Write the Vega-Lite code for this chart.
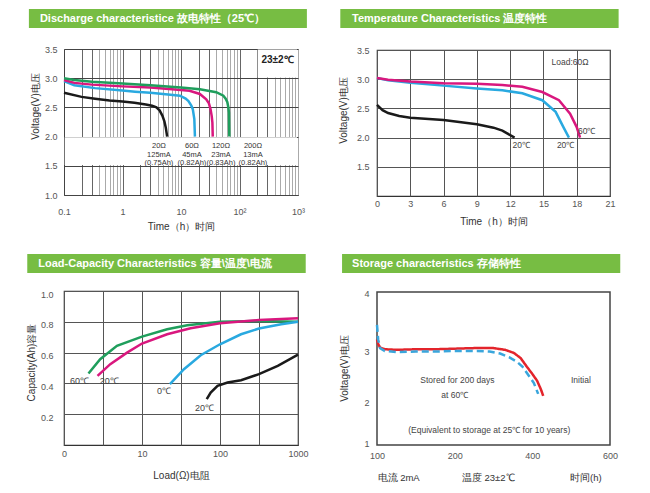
{
  "$schema": "https://vega.github.io/schema/vega-lite/v6.json",
  "background": "white",
  "padding": {"top": 9, "left": 25, "right": 5, "bottom": 5},
  "resolve": {"scale": {"color": "independent", "strokeDash": "independent"}},
  "config": {
    "font": "Liberation Sans",
    "axis": {"labelFont": "Liberation Sans", "labelFontSize": 9, "labelColor": "#555", "titleFont": "Liberation Sans", "titleFontSize": 10, "titleFontWeight": "normal", "titleColor": "#333", "ticks": false, "labelFlush": false, "labelOverlap": false, "domain": false, "gridColor": "#555", "gridWidth": 1, "gridOpacity": 1},
    "view": {"stroke": "#555", "strokeWidth": 1.2},
    "line": {"strokeWidth": 2.5},
    "text": {"font": "Liberation Sans", "fontSize": 9, "color": "#444"}
  },
  "datasets": {
    "one": [{}],
    "discharge": [
      {"s": "20Ω", "t": 0.1, "v": 2.75}, {"s": "20Ω", "t": 0.2, "v": 2.68}, {"s": "20Ω", "t": 0.34, "v": 2.65}, {"s": "20Ω", "t": 0.6, "v": 2.62}, {"s": "20Ω", "t": 1, "v": 2.6}, {"s": "20Ω", "t": 1.6, "v": 2.58}, {"s": "20Ω", "t": 2.5, "v": 2.55}, {"s": "20Ω", "t": 3.2, "v": 2.53}, {"s": "20Ω", "t": 3.8, "v": 2.5}, {"s": "20Ω", "t": 4.3, "v": 2.45}, {"s": "20Ω", "t": 4.8, "v": 2.36}, {"s": "20Ω", "t": 5.2, "v": 2.26}, {"s": "20Ω", "t": 5.5, "v": 2.15}, {"s": "20Ω", "t": 5.8, "v": 2.0},
      {"s": "60Ω", "t": 0.1, "v": 2.95}, {"s": "60Ω", "t": 0.15, "v": 2.88}, {"s": "60Ω", "t": 0.34, "v": 2.83}, {"s": "60Ω", "t": 1, "v": 2.79}, {"s": "60Ω", "t": 1.64, "v": 2.77}, {"s": "60Ω", "t": 3, "v": 2.75}, {"s": "60Ω", "t": 6, "v": 2.72}, {"s": "60Ω", "t": 9.6, "v": 2.7}, {"s": "60Ω", "t": 12, "v": 2.65}, {"s": "60Ω", "t": 13.4, "v": 2.61}, {"s": "60Ω", "t": 15, "v": 2.53}, {"s": "60Ω", "t": 15.9, "v": 2.47}, {"s": "60Ω", "t": 16.9, "v": 2.3}, {"s": "60Ω", "t": 17.3, "v": 2.0},
      {"s": "120Ω", "t": 0.1, "v": 2.97}, {"s": "120Ω", "t": 0.15, "v": 2.92}, {"s": "120Ω", "t": 0.3, "v": 2.89}, {"s": "120Ω", "t": 1, "v": 2.86}, {"s": "120Ω", "t": 3, "v": 2.84}, {"s": "120Ω", "t": 7, "v": 2.81}, {"s": "120Ω", "t": 14, "v": 2.785}, {"s": "120Ω", "t": 21, "v": 2.73}, {"s": "120Ω", "t": 27, "v": 2.64}, {"s": "120Ω", "t": 30, "v": 2.57}, {"s": "120Ω", "t": 32, "v": 2.47}, {"s": "120Ω", "t": 33.5, "v": 2.35}, {"s": "120Ω", "t": 34.4, "v": 2.24}, {"s": "120Ω", "t": 34.9, "v": 2.0},
      {"s": "200Ω", "t": 0.1, "v": 3.0}, {"s": "200Ω", "t": 0.15, "v": 2.97}, {"s": "200Ω", "t": 0.3, "v": 2.94}, {"s": "200Ω", "t": 1, "v": 2.91}, {"s": "200Ω", "t": 3, "v": 2.88}, {"s": "200Ω", "t": 10, "v": 2.84}, {"s": "200Ω", "t": 21, "v": 2.81}, {"s": "200Ω", "t": 40, "v": 2.76}, {"s": "200Ω", "t": 53, "v": 2.7}, {"s": "200Ω", "t": 58, "v": 2.65}, {"s": "200Ω", "t": 62, "v": 2.59}, {"s": "200Ω", "t": 64.5, "v": 2.5}, {"s": "200Ω", "t": 66, "v": 2.41}, {"s": "200Ω", "t": 67, "v": 2.0}
    ],
    "temperature": [
      {"s": "k", "t": 0, "v": 2.56}, {"s": "k", "t": 0.5, "v": 2.47}, {"s": "k", "t": 1, "v": 2.42}, {"s": "k", "t": 2, "v": 2.37}, {"s": "k", "t": 3, "v": 2.34}, {"s": "k", "t": 6, "v": 2.3}, {"s": "k", "t": 9, "v": 2.23}, {"s": "k", "t": 10.5, "v": 2.17}, {"s": "k", "t": 11.3, "v": 2.12}, {"s": "k", "t": 12.4, "v": 2.0},
      {"s": "b", "t": 0, "v": 3.02}, {"s": "b", "t": 1, "v": 2.98}, {"s": "b", "t": 3, "v": 2.94}, {"s": "b", "t": 6, "v": 2.89}, {"s": "b", "t": 9, "v": 2.84}, {"s": "b", "t": 11.3, "v": 2.81}, {"s": "b", "t": 13.1, "v": 2.76}, {"s": "b", "t": 14.9, "v": 2.64}, {"s": "b", "t": 16.1, "v": 2.44}, {"s": "b", "t": 16.8, "v": 2.18}, {"s": "b", "t": 17.3, "v": 2.0},
      {"s": "m", "t": 0, "v": 3.02}, {"s": "m", "t": 1, "v": 2.99}, {"s": "m", "t": 3, "v": 2.96}, {"s": "m", "t": 6, "v": 2.93}, {"s": "m", "t": 9, "v": 2.92}, {"s": "m", "t": 11.3, "v": 2.9}, {"s": "m", "t": 13.1, "v": 2.87}, {"s": "m", "t": 14.9, "v": 2.78}, {"s": "m", "t": 16.4, "v": 2.64}, {"s": "m", "t": 17.4, "v": 2.41}, {"s": "m", "t": 18.0, "v": 2.18}, {"s": "m", "t": 18.3, "v": 2.0}
    ],
    "capacity": [
      {"s": "g", "L": 2.06, "c": 0.464}, {"s": "g", "L": 2.91, "c": 0.557}, {"s": "g", "L": 4.77, "c": 0.644}, {"s": "g", "L": 10, "c": 0.704}, {"s": "g", "L": 21, "c": 0.752}, {"s": "g", "L": 38, "c": 0.778}, {"s": "g", "L": 100, "c": 0.8}, {"s": "g", "L": 316, "c": 0.806}, {"s": "g", "L": 1000, "c": 0.8},
      {"s": "m", "L": 2.69, "c": 0.449}, {"s": "m", "L": 3.92, "c": 0.525}, {"s": "m", "L": 6.43, "c": 0.6}, {"s": "m", "L": 10, "c": 0.659}, {"s": "m", "L": 21, "c": 0.719}, {"s": "m", "L": 42, "c": 0.758}, {"s": "m", "L": 100, "c": 0.79}, {"s": "m", "L": 316, "c": 0.812}, {"s": "m", "L": 1000, "c": 0.823},
      {"s": "b", "L": 22.8, "c": 0.395}, {"s": "b", "L": 34.5, "c": 0.492}, {"s": "b", "L": 56.6, "c": 0.583}, {"s": "b", "L": 100, "c": 0.654}, {"s": "b", "L": 186, "c": 0.719}, {"s": "b", "L": 316, "c": 0.756}, {"s": "b", "L": 609, "c": 0.784}, {"s": "b", "L": 1000, "c": 0.8},
      {"s": "k", "L": 67.6, "c": 0.298}, {"s": "k", "L": 76, "c": 0.341}, {"s": "k", "L": 93, "c": 0.384}, {"s": "k", "L": 125, "c": 0.406}, {"s": "k", "L": 186, "c": 0.421}, {"s": "k", "L": 316, "c": 0.46}, {"s": "k", "L": 550, "c": 0.514}, {"s": "k", "L": 1000, "c": 0.587}
    ],
    "storage": [
      {"s": "Initial", "t": 0, "v": 3.2}, {"s": "Initial", "t": 3, "v": 3.12}, {"s": "Initial", "t": 8, "v": 3.06}, {"s": "Initial", "t": 20, "v": 3.03}, {"s": "Initial", "t": 50, "v": 3.02}, {"s": "Initial", "t": 100, "v": 3.03}, {"s": "Initial", "t": 150, "v": 3.03}, {"s": "Initial", "t": 200, "v": 3.04}, {"s": "Initial", "t": 250, "v": 3.05}, {"s": "Initial", "t": 300, "v": 3.05}, {"s": "Initial", "t": 330, "v": 3.02}, {"s": "Initial", "t": 353, "v": 2.96}, {"s": "Initial", "t": 370, "v": 2.86}, {"s": "Initial", "t": 386, "v": 2.69}, {"s": "Initial", "t": 400, "v": 2.55}, {"s": "Initial", "t": 412, "v": 2.42}, {"s": "Initial", "t": 422, "v": 2.25}, {"s": "Initial", "t": 428, "v": 2.12},
      {"s": "Stored", "t": 0, "v": 3.45}, {"s": "Stored", "t": 3, "v": 3.2}, {"s": "Stored", "t": 8, "v": 3.05}, {"s": "Stored", "t": 20, "v": 3.0}, {"s": "Stored", "t": 50, "v": 2.98}, {"s": "Stored", "t": 100, "v": 2.99}, {"s": "Stored", "t": 150, "v": 2.99}, {"s": "Stored", "t": 200, "v": 3.0}, {"s": "Stored", "t": 257, "v": 3.0}, {"s": "Stored", "t": 290, "v": 2.99}, {"s": "Stored", "t": 317, "v": 2.95}, {"s": "Stored", "t": 340, "v": 2.88}, {"s": "Stored", "t": 360, "v": 2.79}, {"s": "Stored", "t": 375, "v": 2.69}, {"s": "Stored", "t": 386, "v": 2.57}, {"s": "Stored", "t": 397, "v": 2.45}, {"s": "Stored", "t": 404, "v": 2.37}, {"s": "Stored", "t": 415, "v": 2.16}
    ]
  },
  "spacing": 22,
  "vconcat": [
    {
      "spacing": 30,
      "resolve": {"scale": {"color": "independent", "strokeDash": "independent"}},
      "hconcat": [
        {
          "spacing": 16,
          "vconcat": [
            {
              "width": 234, "height": 19, "view": {"stroke": null},
              "data": {"name": "one"},
              "layer": [
                {"mark": {"type": "rect", "color": "#77bd43"}, "encoding": {"x": {"datum": -0.15, "type": "quantitative", "scale": {"domain": [0, 1], "nice": false, "zero": false}, "axis": null}, "x2": {"datum": 1.038}}},
                {"mark": {"type": "text", "align": "left", "baseline": "middle", "color": "white", "fontWeight": "bold", "fontSize": 11}, "encoding": {"x": {"datum": -0.103, "type": "quantitative", "axis": null}, "text": {"value": "Discharge characteristice  故电特性（25℃）"}}}
              ]
            },
            {
              "width": 234, "height": 146, "view": {"stroke": "#777", "strokeWidth": 1},
              "data": {"name": "one"},
              "layer": [
                {"mark": {"type": "rect", "color": "white"}, "encoding": {"x": {"datum": 0.103, "type": "quantitative"}, "x2": {"datum": 960}, "y": {"datum": 1.512, "type": "quantitative"}, "y2": {"datum": 1.988}}},
                {"mark": {"type": "rect", "color": "white"}, "encoding": {"x": {"datum": 205, "type": "quantitative"}, "x2": {"datum": 960}, "y": {"datum": 3.012, "type": "quantitative"}, "y2": {"datum": 3.49}}},
                {
                  "data": {"name": "discharge"},
                  "mark": {"type": "line", "strokeWidth": 2.5},
                  "encoding": {
                    "x": {"field": "t", "type": "quantitative", "scale": {"type": "log", "domain": [0.1, 1000], "nice": false},
                      "axis": {"values": [0.1,0.2,0.3,0.4,0.5,0.6,0.7,0.8,0.9,1,2,3,4,5,6,7,8,9,10,20,30,40,50,60,70,80,90,100,200,300,400,500,600,700,800,900,1000],
                        "tickCount": 100,
                        "labelExpr": "datum.value==0.1?'0.1':datum.value==1?'1':datum.value==10?'10':datum.value==100?'10²':datum.value==1000?'10³':''",
                        "labelOverlap": false,
                        "grid": true, "gridColor": {"condition": {"test": "indexof([0.2,0.3,1,2,3,10,20,30,100,200,300], datum.value) >= 0", "value": "#666"}, "value": "#aaa"},
                        "domain": true, "domainColor": "#444", "labelPadding": 12, "titlePadding": 5, "title": "Time（h）时间"}},
                    "y": {"field": "v", "type": "quantitative", "scale": {"domain": [1, 3.5], "nice": false, "zero": false},
                      "axis": {"values": [1, 1.5, 2, 2.5, 3, 3.5], "tickCount": 100, "format": ".1f", "labelOverlap": false, "grid": true, "gridColor": "#444", "domain": true, "domainColor": "#444", "labelPadding": 7, "title": "Voltage(V)电压", "titleY": 57}},
                    "color": {"field": "s", "type": "nominal", "scale": {"domain": ["20Ω", "60Ω", "120Ω", "200Ω"], "range": ["#1a1a1a", "#29a9e0", "#d9177e", "#1f9e5c"]}, "legend": null}
                  }
                },
                {"mark": {"type": "text", "fontSize": 10, "fontWeight": "bold", "color": "#222"}, "encoding": {"x": {"datum": 446, "type": "quantitative"}, "y": {"datum": 3.31, "type": "quantitative"}, "text": {"value": "23±2℃"}}},
                {"mark": {"type": "text", "fontSize": 7.5, "baseline": "top", "lineHeight": 8.5, "color": "#333"}, "encoding": {"x": {"datum": 4.2, "type": "quantitative"}, "y": {"datum": 1.905, "type": "quantitative"}, "text": {"value": ["20Ω", "125mA", "(0.75Ah)"]}}},
                {"mark": {"type": "text", "fontSize": 7.5, "baseline": "top", "lineHeight": 8.5, "color": "#333"}, "encoding": {"x": {"datum": 15.4, "type": "quantitative"}, "y": {"datum": 1.905, "type": "quantitative"}, "text": {"value": ["60Ω", "45mA", "(0.82Ah)"]}}},
                {"mark": {"type": "text", "fontSize": 7.5, "baseline": "top", "lineHeight": 8.5, "color": "#333"}, "encoding": {"x": {"datum": 48.3, "type": "quantitative"}, "y": {"datum": 1.905, "type": "quantitative"}, "text": {"value": ["120Ω", "23mA", "(0.83Ah)"]}}},
                {"mark": {"type": "text", "fontSize": 7.5, "baseline": "top", "lineHeight": 8.5, "color": "#333"}, "encoding": {"x": {"datum": 170, "type": "quantitative"}, "y": {"datum": 1.905, "type": "quantitative"}, "text": {"value": ["200Ω", "13mA", "(0.82Ah)"]}}}
              ]
            }
          ]
        },
        {
          "spacing": 17,
          "vconcat": [
            {
              "width": 233, "height": 19, "view": {"stroke": null},
              "data": {"name": "one"},
              "layer": [
                {"mark": {"type": "rect", "color": "#77bd43"}, "encoding": {"x": {"datum": -0.1575, "type": "quantitative", "scale": {"domain": [0, 1], "nice": false, "zero": false}, "axis": null}, "x2": {"datum": 1.037}}},
                {"mark": {"type": "text", "align": "left", "baseline": "middle", "color": "white", "fontWeight": "bold", "fontSize": 11}, "encoding": {"x": {"datum": -0.107, "type": "quantitative", "axis": null}, "text": {"value": "Temperature Characteristics  温度特性"}}}
              ]
            },
            {
              "width": 233, "height": 146, "view": {"stroke": "#333", "strokeWidth": 1.2},
              "data": {"name": "one"},
              "layer": [
                {
                  "data": {"name": "temperature"},
                  "mark": {"type": "line", "strokeWidth": 2.5},
                  "encoding": {
                    "x": {"field": "t", "type": "quantitative", "scale": {"domain": [0, 21], "nice": false},
                      "axis": {"values": [0,3,6,9,12,15,18,21], "tickCount": 100, "format": "d", "labelOverlap": false, "grid": true, "gridColor": "#555", "labelPadding": 3, "titlePadding": 8, "title": "Time（h）时间"}},
                    "y": {"field": "v", "type": "quantitative", "scale": {"domain": [1, 3.5], "nice": false, "zero": false},
                      "axis": {"values": [1.5, 2, 2.5, 3, 3.5], "tickCount": 100, "format": ".1f", "labelOverlap": false, "grid": true, "gridColor": "#555", "labelPadding": 8, "titlePadding": 8, "title": "Voltage(V)电压", "titleY": 60}},
                    "color": {"field": "s", "type": "nominal", "scale": {"domain": ["k", "b", "m"], "range": ["#1a1a1a", "#29a9e0", "#d9177e"]}, "legend": null}
                  }
                },
                {"mark": {"type": "text", "fontSize": 8.5}, "encoding": {"x": {"datum": 17.4, "type": "quantitative"}, "y": {"datum": 3.29, "type": "quantitative"}, "text": {"value": "Load:60Ω"}}},
                {"mark": {"type": "text", "fontSize": 8.5}, "encoding": {"x": {"datum": 13.0, "type": "quantitative"}, "y": {"datum": 1.87, "type": "quantitative"}, "text": {"value": "20℃"}}},
                {"mark": {"type": "text", "fontSize": 8.5}, "encoding": {"x": {"datum": 17.0, "type": "quantitative"}, "y": {"datum": 1.87, "type": "quantitative"}, "text": {"value": "20℃"}}},
                {"mark": {"type": "text", "fontSize": 8.5}, "encoding": {"x": {"datum": 18.9, "type": "quantitative"}, "y": {"datum": 2.11, "type": "quantitative"}, "text": {"value": "60℃"}}}
              ]
            }
          ]
        }
      ]
    },
    {
      "spacing": 30,
      "resolve": {"scale": {"color": "independent", "strokeDash": "independent"}},
      "hconcat": [
        {
          "spacing": 16,
          "vconcat": [
            {
              "width": 234, "height": 19, "view": {"stroke": null},
              "data": {"name": "one"},
              "layer": [
                {"mark": {"type": "rect", "color": "#77bd43"}, "encoding": {"x": {"datum": -0.157, "type": "quantitative", "scale": {"domain": [0, 1], "nice": false, "zero": false}, "axis": null}, "x2": {"datum": 1.033}}},
                {"mark": {"type": "text", "align": "left", "baseline": "middle", "color": "white", "fontWeight": "bold", "fontSize": 11}, "encoding": {"x": {"datum": -0.11, "type": "quantitative", "axis": null}, "text": {"value": "Load-Capacity Characteristics  容量\\温度\\电流"}}}
              ]
            },
            {
              "width": 234, "height": 154, "view": {"stroke": "#333", "strokeWidth": 1.2},
              "data": {"name": "one"},
              "layer": [
                {
                  "data": {"name": "capacity"},
                  "mark": {"type": "line", "strokeWidth": 2.5},
                  "encoding": {
                    "x": {"field": "L", "type": "quantitative", "scale": {"type": "log", "domain": [1, 1000], "nice": false},
                      "axis": {"values": [1, 3.1623, 10, 31.623, 100, 316.23, 1000], "tickCount": 100, "labelExpr": "datum.value==1?'0':datum.value==10?'10':datum.value==100?'100':datum.value==1000?'1000':''", "labelOverlap": false, "grid": true, "gridColor": "#555", "labelPadding": 4, "titlePadding": 12, "title": "Load(Ω)电阻"}},
                    "y": {"field": "c", "type": "quantitative", "scale": {"domain": [0, 1], "nice": false},
                      "axis": {"values": [0.2, 0.4, 0.6, 0.8, 1.0], "tickCount": 100, "format": ".1f", "labelOverlap": false, "grid": true, "gridColor": "#555", "labelPadding": 11, "labelOffset": 3, "title": "Capacity(Ah)容量", "titleY": 71}},
                    "color": {"field": "s", "type": "nominal", "scale": {"domain": ["g", "m", "b", "k"], "range": ["#1f9e5c", "#d9177e", "#29a9e0", "#1a1a1a"]}, "legend": null}
                  }
                },
                {"mark": {"type": "text", "fontSize": 9}, "encoding": {"x": {"datum": 1.58, "type": "quantitative"}, "y": {"datum": 0.416, "type": "quantitative"}, "text": {"value": "60℃"}}},
                {"mark": {"type": "text", "fontSize": 9}, "encoding": {"x": {"datum": 3.8, "type": "quantitative"}, "y": {"datum": 0.416, "type": "quantitative"}, "text": {"value": "20℃"}}},
                {"mark": {"type": "text", "fontSize": 9}, "encoding": {"x": {"datum": 19.2, "type": "quantitative"}, "y": {"datum": 0.351, "type": "quantitative"}, "text": {"value": "0℃"}}},
                {"mark": {"type": "text", "fontSize": 9}, "encoding": {"x": {"datum": 63.3, "type": "quantitative"}, "y": {"datum": 0.242, "type": "quantitative"}, "text": {"value": "20℃"}}}
              ]
            }
          ]
        },
        {
          "spacing": 15,
          "vconcat": [
            {
              "width": 233, "height": 19, "view": {"stroke": null},
              "data": {"name": "one"},
              "layer": [
                {"mark": {"type": "rect", "color": "#77bd43"}, "encoding": {"x": {"datum": -0.15, "type": "quantitative", "scale": {"domain": [0, 1], "nice": false, "zero": false}, "axis": null}, "x2": {"datum": 1.044}}},
                {"mark": {"type": "text", "align": "left", "baseline": "middle", "color": "white", "fontWeight": "bold", "fontSize": 11}, "encoding": {"x": {"datum": -0.107, "type": "quantitative", "axis": null}, "text": {"value": "Storage characteristics  存储特性"}}}
              ]
            },
            {
              "width": 233, "height": 153, "view": {"stroke": "#444", "strokeWidth": 1.5},
              "data": {"name": "one"},
              "layer": [
                {
                  "data": {"name": "storage"},
                  "mark": {"type": "line", "strokeWidth": 2.5},
                  "encoding": {
                    "x": {"field": "t", "type": "quantitative", "scale": {"domain": [0, 600], "nice": false},
                      "axis": {"values": [0, 200, 400, 600], "tickCount": 100, "labelExpr": "datum.value==0?'100':datum.label", "format": "d", "labelOverlap": false, "grid": false, "labelPadding": 6, "titlePadding": 12, "titleFontSize": 9.5, "titleAnchor": "start", "titleAlign": "left", "titleX": 0, "title": "电流 2mA\u00a0\u00a0\u00a0\u00a0\u00a0\u00a0\u00a0\u00a0\u00a0\u00a0\u00a0\u00a0\u00a0\u00a0\u00a0\u00a0温度 23±2℃\u00a0\u00a0\u00a0\u00a0\u00a0\u00a0\u00a0\u00a0\u00a0\u00a0\u00a0\u00a0\u00a0\u00a0\u00a0\u00a0\u00a0\u00a0\u00a0\u00a0\u00a0时间(h)"}},
                    "y": {"field": "v", "type": "quantitative", "scale": {"domain": [1, 2, 3, 4], "range": [151, 110, 59, 1], "nice": false, "zero": false},
                      "axis": {"values": [1, 2, 3, 4], "tickCount": 100, "format": "d", "labelOverlap": false, "grid": false, "labelPadding": 8, "titlePadding": 14, "title": "Voltage(V)电压"}},
                    "color": {"field": "s", "type": "nominal", "scale": {"domain": ["Initial", "Stored"], "range": ["#e3242b", "#3aa6dc"]}, "legend": null},
                    "strokeDash": {"field": "s", "type": "nominal", "scale": {"domain": ["Initial", "Stored"], "range": [[1, 0], [7, 4]]}, "legend": null}
                  }
                },
                {"mark": {"type": "text", "fontSize": 8.5}, "encoding": {"x": {"datum": 207, "type": "quantitative"}, "y": {"datum": 2.43, "type": "quantitative"}, "text": {"value": "Stored for 200 days"}}},
                {"mark": {"type": "text", "fontSize": 8.5}, "encoding": {"x": {"datum": 200, "type": "quantitative"}, "y": {"datum": 2.14, "type": "quantitative"}, "text": {"value": "at 60℃"}}},
                {"mark": {"type": "text", "fontSize": 8.5}, "encoding": {"x": {"datum": 525, "type": "quantitative"}, "y": {"datum": 2.43, "type": "quantitative"}, "text": {"value": "Initial"}}},
                {"mark": {"type": "text", "fontSize": 8.5}, "encoding": {"x": {"datum": 289, "type": "quantitative"}, "y": {"datum": 1.32, "type": "quantitative"}, "text": {"value": "(Equivalent to storage at 25℃ for 10 years)"}}}
              ]
            }
          ]
        }
      ]
    }
  ]
}
